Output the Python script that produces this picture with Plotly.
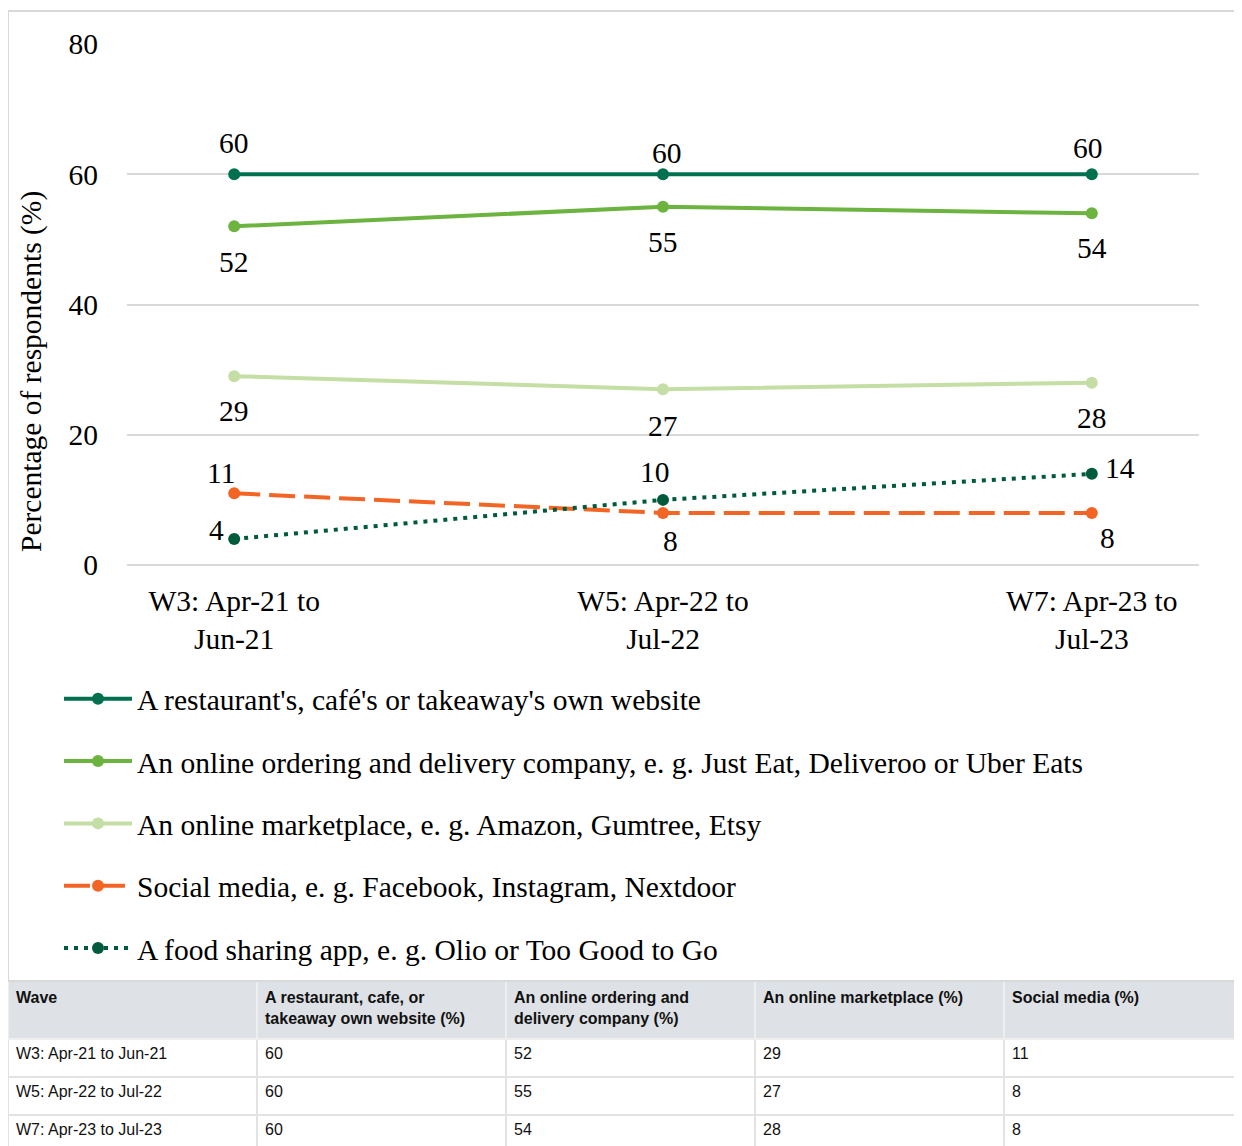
import plotly.graph_objects as go

# ---- data ----
waves = ["W3: Apr-21 to<br>Jun-21", "W5: Apr-22 to<br>Jul-22", "W7: Apr-23 to<br>Jul-23"]
wave_table = ["W3: Apr-21 to Jun-21", "W5: Apr-22 to Jul-22", "W7: Apr-23 to Jul-23"]
restaurant = [60, 60, 60]
ordering = [52, 55, 54]
marketplace = [29, 27, 28]
social = [11, 8, 8]
food_sharing = [4, 10, 14]

series_names = [
    "A restaurant's, café's or takeaway's own website",
    "An online ordering and delivery company, e. g. Just Eat, Deliveroo or Uber Eats",
    "An online marketplace, e. g. Amazon, Gumtree, Etsy",
    "Social media, e. g. Facebook, Instagram, Nextdoor",
    "A food sharing app, e. g. Olio or Too Good to Go",
]
table_headers = [
    "Wave",
    "A restaurant, cafe, or<br>takeaway own website (%)",
    "An online ordering and<br>delivery company (%)",
    "An online marketplace (%)",
    "Social media (%)",
]
y_ticks = [0, 20, 40, 60, 80]

W, H = 1242, 1146
OFF = 8  # page body margin
serif = "Liberation Serif, Times New Roman, serif"
sans = "Liberation Sans, Arial, sans-serif"
FS = 29.5


def px_x(p):
    return (p - OFF) / W


def px_y(p):
    return 1 - (p - OFF) / H


# styles and label offsets (xshift, yshift in px) per point
styles = [
    dict(color="#00704F", dash="solid", lab=[(0, 31), (4, 21), (-4, 26)]),
    dict(color="#6CB33F", dash="solid", lab=[(0, -36), (0, -35), (0, -35)]),
    dict(color="#C5DEA5", dash="solid", lab=[(0, -35), (0, -37), (0, -35)]),
    dict(color="#F26524", dash="26px,9px", lab=[(-13, 20), (7, -28), (16, -25)]),
    dict(color="#005A3C", dash="4px,6px", lab=[(-18, 9), (-8, 28), (28, 6)]),
]
values = [restaurant, ordering, marketplace, social, food_sharing]

fig = go.Figure()
annotations = []
for i, (name, vals, st) in enumerate(zip(series_names, values, styles)):
    fig.add_trace(go.Scatter(
        x=waves, y=vals, name=name, mode="lines+markers",
        line=dict(color=st["color"], width=4, dash=st["dash"]),
        marker=dict(color=st["color"], size=12),
        legendgroup=f"g{i}", cliponaxis=False,
    ))
    for xv, yv, (dx, dy) in zip(waves, vals, st["lab"]):
        annotations.append(dict(
            x=xv, y=yv, xref="x", yref="y", text=str(yv), showarrow=False,
            xshift=dx, yshift=dy, font=dict(family=serif, size=FS, color="#000000"),
        ))

fig.add_trace(go.Table(
    domain=dict(x=[px_x(8), 1], y=[0, px_y(981)]),
    columnwidth=[249, 249, 249, 249, 246],
    header=dict(
        values=[f"<b>{h}</b>" for h in table_headers],
        fill_color="#DEE1E5", line=dict(color="#EEEEEE", width=2),
        align="left", height=58,
        font=dict(family=sans, size=16, color="#111111"),
    ),
    cells=dict(
        values=[wave_table, restaurant, ordering, marketplace, social],
        fill_color="#FFFFFF", line=dict(color="#E3E3E3", width=2),
        align="left", height=38,
        font=dict(family=sans, size=16, color="#111111"),
    ),
))

annotations.append(dict(
    text="Percentage of respondents (%)", textangle=-90,
    x=px_x(31), y=px_y(372), xref="paper", yref="paper",
    xanchor="center", yanchor="middle",
    showarrow=False, font=dict(family=serif, size=FS, color="#000000"),
))

fig.update_layout(
    template="none",
    width=W, height=H,
    margin=dict(l=0, r=0, t=0, b=0, pad=0, autoexpand=False),
    paper_bgcolor="#FFFFFF", plot_bgcolor="#FFFFFF",
    font=dict(family=serif, size=FS, color="#000000"),
    xaxis=dict(
        domain=[px_x(127), px_x(1199)], range=[-0.25, 2.25],
        showgrid=False, showline=False, zeroline=False, ticks="",
        tickfont=dict(family=serif, size=FS), anchor="y",
        ticklabelstandoff=15, automargin=False,
    ),
    yaxis=dict(
        domain=[px_y(565), px_y(44)], range=[0, 80], tickvals=y_ticks,
        showgrid=True, gridcolor="#D9D9D9", gridwidth=2,
        zeroline=True, zerolinecolor="#D9D9D9", zerolinewidth=2,
        showline=False, ticks="", ticklabelstandoff=28,
        tickfont=dict(family=serif, size=FS), anchor="x", automargin=False,
    ),
    showlegend=True,
    legend=dict(
        orientation="v", x=px_x(59), xanchor="left", y=px_y(673), yanchor="top",
        font=dict(family=serif, size=FS, color="#000000"),
        tracegroupgap=21, itemwidth=68, bgcolor="rgba(0,0,0,0)", borderwidth=0,
    ),
    annotations=annotations,
    shapes=[dict(
        type="rect", xref="paper", yref="paper",
        x0=px_x(8), x1=1.01, y0=px_y(981), y1=px_y(11),
        line=dict(color="#D9D9D9", width=2),
    )],
)

fig.write_html("out.html")
